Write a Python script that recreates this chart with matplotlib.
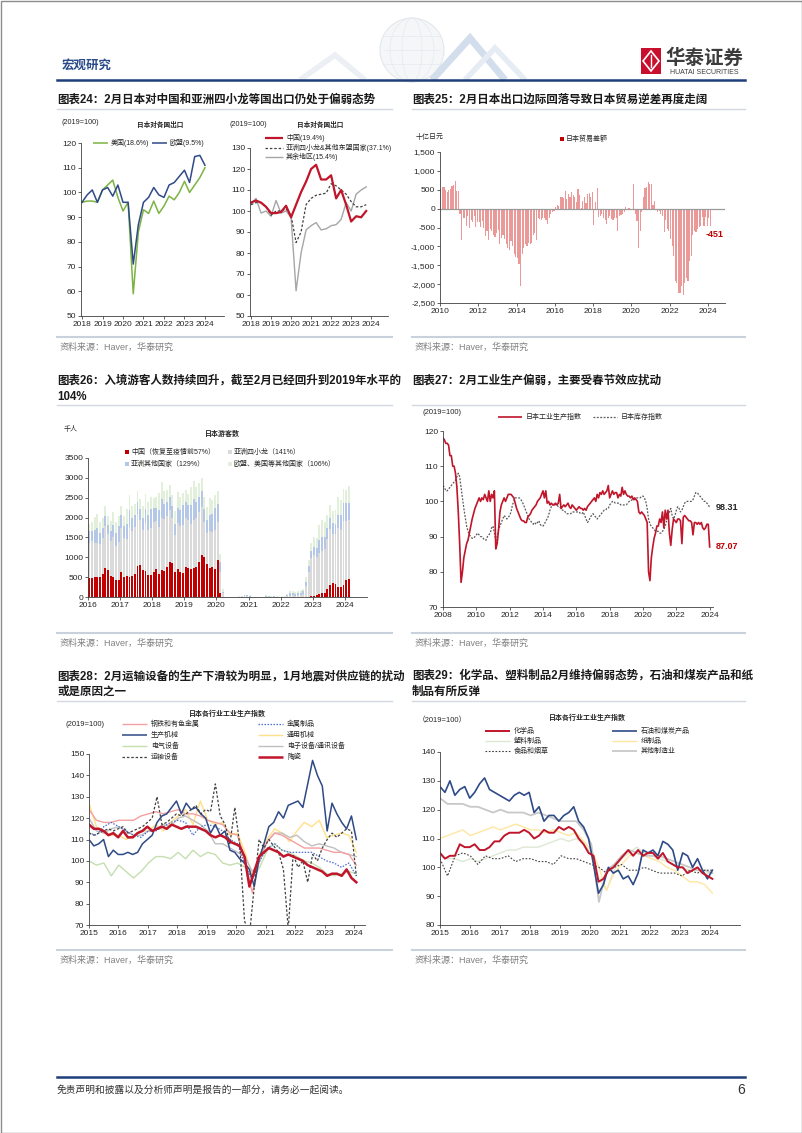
import matplotlib
matplotlib.use("Agg")
import matplotlib.pyplot as plt
import numpy as np
from matplotlib.patches import Rectangle, Circle, Ellipse, Polygon
from matplotlib.ticker import FuncFormatter

plt.rcParams['font.family'] = ['Liberation Sans', 'Noto Sans CJK SC', 'DejaVu Sans']
plt.rcParams['axes.unicode_minus'] = False

# ---------------- data ----------------
# chart 24 (quarterly, 2018Q1 onwards)
us_exp = [96, 96.5, 96.5, 96, 101, 103, 105, 98, 92.5, 96, 59, 84, 93, 91.5, 96.5, 91.5,
          94.5, 98.5, 97, 100, 104.5, 100, 103, 106, 110]
eu_exp = [96, 99, 101, 96, 101, 102, 98.5, 103, 96, 96, 71, 87, 96, 98, 102, 99,
          98, 103, 104, 106.5, 109, 104, 114.5, 115, 111]
cn_exp = [104, 105, 104, 102, 99, 99, 99.5, 102.5, 97, 103, 109, 114, 120, 122, 115, 115,
          117, 106, 110, 103, 95, 97.5, 97, 100]
asia_exp = [103, 104, 104, 102, 98, 100, 100, 101, 98, 85, 90, 103, 106, 107.5, 108, 108.5,
            113, 112, 110, 108, 104.5, 102, 102, 103]
rest_exp = [103.5, 106, 99, 100, 97.5, 105, 99, 100, 97, 62, 80, 91, 93, 94.5, 91, 91.5,
            93, 93.5, 96, 104, 100, 108, 110, 111.5]

# chart 25 trade balance, monthly 2010-01 .. 2024-02 (bn yen)
trade_bal = [
    530, 580, 570, 500, 430, 500, 520, 610, 620, 740, 460, 470,
    -150, -820, -250, -250, -450, -200, -500, -300, -350, -200, -480, -350,
    -350, -480, -320, -500, -720, -600, -820, -550, -600, -700, -750, -640,
    -560, -950, -780, -700, -800, -950, -1050, -1100, -850, -1000, -1200, -1280,
    -1300, -1480, -2050, -1200, -1050, -950, -1000, -920, -950, -900, -700, -650,
    -820, -260, -280, -300, -250, -240, -300, -400, -260, -150, -100, -50,
    50, 100, 80, 300, 310, 280, 470, 250, 400, 300, 450, 350,
    300, 180, 520, 350, 20, 200, 320, 150, 400, 420, 300, 450,
    -430, 180, 540, -220, -200, -150, -250, -310, -400, -250, -200, -270,
    -300, -250, -250, -580, -200, -180, -150, -100, 45, -30, 20, -20,
    -20, 650, -140, -330, -1050, -600, -100, 310, 540, 580, 700, 640,
    640, 90, 200, -30, -90, -50, -150, -200, -620, -300, -540, -600,
    -800, -1000, -1250, -1920, -1960, -2230, -2230, -2050, -2280, -1960, -1830, -1920,
    -1380, -1250, -710, -580, -620, -540, -490, -450, -220, -450, -220, -450,
    -250, -451]

# chart 26 visitors, monthly 2016-01 .. 2024-02 (thousand)
china_vis = [
    470, 490, 500, 510, 510, 580, 730, 680, 520, 510, 430, 420,
    620, 500, 520, 510, 520, 580, 770, 810, 680, 660, 560, 560,
    620, 700, 590, 680, 650, 760, 870, 850, 640, 710, 620, 600,
    750, 720, 700, 730, 750, 880, 1050, 1000, 820, 730, 750, 710,
    920, 90, 10, 0, 0, 0, 0, 0, 0, 0, 0, 0,
    0, 0, 0, 0, 0, 0, 0, 0, 0, 0, 0, 0,
    1, 1, 3, 5, 5, 3, 3, 4, 5, 5, 10, 20,
    30, 40, 70, 110, 100, 210, 310, 360, 330, 250, 250, 310,
    420, 460]
dragons_vis = [
    900, 930, 850, 860, 830, 910, 1050, 910, 890, 1000, 860, 970,
    1130, 990, 930, 1250, 1140, 1180, 1310, 1140, 1010, 1200, 1130, 1190,
    1260, 1210, 1180, 1300, 1320, 1280, 1310, 1150, 910, 1150, 1160, 1210,
    1250, 1220, 1140, 1210, 1240, 1270, 1220, 880, 780, 930, 880, 980,
    970, 550, 80, 1, 1, 1, 2, 4, 7, 14, 30, 30,
    11, 2, 3, 3, 2, 2, 9, 6, 4, 6, 5, 3,
    5, 5, 18, 25, 35, 32, 42, 56, 75, 275, 615, 950,
    1040, 970, 1040, 1060, 1120, 1250, 1400, 1230, 1250, 1480, 1440, 1610,
    1500, 1490]
asia_vis = [
    280, 250, 330, 380, 280, 250, 270, 230, 250, 300, 320, 400,
    320, 300, 380, 440, 320, 300, 320, 270, 290, 360, 380, 470,
    360, 330, 420, 500, 360, 340, 350, 300, 300, 380, 410, 500,
    400, 370, 470, 540, 400, 380, 390, 340, 340, 410, 450, 540,
    450, 250, 40, 1, 1, 1, 1, 2, 3, 6, 12, 14,
    15, 2, 4, 4, 4, 4, 12, 8, 6, 8, 7, 4,
    5, 5, 25, 60, 50, 40, 50, 50, 60, 100, 150, 200,
    200, 230, 330, 350, 300, 280, 290, 270, 270, 340, 380, 450,
    450, 420]
west_vis = [
    200, 220, 330, 330, 280, 250, 250, 230, 260, 330, 270, 260,
    230, 250, 380, 380, 320, 290, 280, 260, 300, 380, 310, 300,
    260, 270, 420, 420, 350, 320, 300, 280, 310, 400, 330, 320,
    290, 290, 450, 450, 380, 350, 330, 300, 330, 430, 360, 340,
    320, 200, 60, 1, 0, 1, 1, 3, 4, 8, 14, 15,
    20, 3, 5, 4, 4, 4, 30, 12, 8, 8, 8, 5,
    6, 6, 20, 50, 60, 45, 50, 60, 70, 120, 160, 200,
    230, 240, 380, 430, 380, 330, 320, 300, 330, 450, 370, 360,
    320, 420]

# chart 27, monthly 2008-01 .. 2024-01
ip_index = [
    118, 117.5, 116.5, 116.5, 116, 113, 113, 110, 110, 108, 104, 97,
    88, 77, 80, 84, 86, 88, 89, 91, 93, 95, 96.5, 98,
    99, 100, 101, 100, 101, 100.5, 102, 101, 100, 103, 100, 102,
    101, 103, 86.5, 88, 92, 97, 99, 100, 101, 100, 101, 102,
    102, 102, 101.5, 101, 99.5, 98, 97, 96, 95, 94.5, 94.5, 94,
    94, 95.5, 96, 96.5, 97.5, 98, 98.5, 99, 100, 100.5, 101, 102,
    103, 101, 103, 99.5, 100, 99, 99.5, 99, 99, 99.5, 99, 99.5,
    102, 98, 98.5, 99, 98.5, 99, 99.5, 98.5, 98, 99, 98.5, 98,
    97.5, 98, 98.5, 98, 98, 97.5, 98, 97.5, 98.5, 99, 99.5, 100,
    100.5, 101, 100, 102, 101, 102.5, 102, 103, 102, 102.5, 103, 104.5,
    101, 102, 103, 102, 102.5, 102.5, 101, 102, 101.5, 104, 102, 103,
    102, 101.5, 101.5, 101, 101.5, 100.5, 101, 100.5, 100, 97, 96.5, 97,
    96.5, 96, 95, 94, 80, 77.5, 84, 87, 89.5, 91, 93, 93,
    95, 94, 97, 92.5, 97.5, 95, 97.5, 91, 87.5, 92, 95, 94.5,
    94, 95, 95, 94.5, 88, 95.5, 96, 95.5, 95, 94.5, 94.5, 94,
    90.5, 94, 94, 93.5, 94, 93.5, 94, 92.5, 92, 92.5, 93.5, 93.5,
    87.07]
inv_index = [
    104.5, 104, 103, 103, 103.5, 104, 104.5, 105, 105.5, 106, 107, 108,
    107, 104, 101, 98, 95.5, 93, 91.5, 90.5, 90, 89.5, 89.5, 90,
    90.5, 91, 90.5, 90, 90, 89.5, 89, 89, 90, 90.5, 91, 92.5,
    93, 91, 89, 90, 92, 93, 94, 95, 96, 95.5, 95, 95.5,
    96, 97, 99, 100, 101, 101, 101, 101, 100.5, 100, 99, 98,
    97, 96, 95, 94.5, 94, 93.5, 94, 93.5, 94, 94.5, 93.5, 93,
    93, 93.5, 94.5, 95, 96, 97.5, 98.5, 99, 99.5, 99, 99, 98.5,
    98.5, 98, 97.5, 97.5, 97, 96.5, 96.5, 96.5, 96.5, 97, 97, 97,
    97, 97, 97, 96.5, 96.5, 97, 96, 95, 94, 94.5, 95.5, 96,
    96.5, 96, 95.5, 95, 95.5, 96, 96.5, 97, 97.5, 97.5, 98, 98,
    99, 99.5, 100, 100, 99.5, 99.5, 99.5, 99.5, 99, 99, 99, 99,
    99, 99.5, 100, 100, 100.5, 100.5, 100.5, 101, 101, 101, 101, 101.5,
    101.5, 101, 100, 98, 95, 93.5, 93, 92.5, 92, 91.5, 91.5, 91.5,
    91, 91, 91.5, 92, 93, 94.5, 96, 97, 98, 96, 95, 96,
    97.5, 98.5, 98, 97, 97.5, 98.5, 99.5, 100, 100, 100, 100, 100,
    100.5, 101.5, 102.5, 102.5, 102, 101.5, 101, 100.5, 100, 100, 99.5, 99,
    98.31]

# chart 28 (2015 .. early 2024)
steel = [124, 119, 118, 118, 119, 119, 119, 121, 122, 123, 122, 123, 124, 122, 122, 121, 119, 118, 117,
         113, 112, 100, 85, 102, 109, 113, 112, 110, 108, 106, 106, 106, 105, 104, 104, 103, 98]
metal = [113, 112, 116, 118, 116, 114, 112, 111, 114, 114, 116, 118, 119, 118, 112, 116, 117, 116, 114,
         110, 108, 98, 91, 100, 106, 108, 105, 104, 104, 104, 104, 102, 100, 99, 97, 99, 93]
gen_mach = [127, 116, 114, 112, 112, 110, 112, 114, 114, 117, 114, 118, 121, 124, 117, 128, 119, 117, 118,
            112, 113, 104, 93, 103, 110, 115, 113, 109, 114, 118, 116, 119, 111, 112, 113, 112, 104]
elec = [100, 98, 99, 93, 98, 95, 92, 95, 99, 102, 102, 101, 104, 101, 105, 102, 104, 103, 99,
        98, 99, 97, 92, 97, 105, 108, 105, 104, 102, 100, 99, 97, 94, 93, 94, 95, 94]
electronic = [120, 114, 113, 115, 116, 114, 112, 112, 114, 115, 117, 116, 120, 121, 119, 117, 114, 108, 108,
              106, 104, 102, 95, 100, 109, 113, 113, 111, 112, 109, 107, 108, 107, 106, 104, 103, 102]
prod_mach = [110, 107, 108, 110, 102, 105, 103, 103, 104, 103, 104, 108, 110, 112, 118, 121, 122, 125, 128,
             122, 127, 124, 125, 122, 120, 113, 117, 112, 114, 105, 104, 101, 99, 96, 88, 101, 108, 116,
             118, 123, 120, 126, 127, 128, 125, 136, 147, 140, 135, 114, 127, 122, 118, 115, 121, 110]
transport = [113, 112, 113, 114, 115, 114, 115, 116, 113, 114, 115, 116, 118, 120, 130, 117, 118, 120, 122,
             121, 122, 124, 126, 122, 124, 123, 136, 121, 117, 108, 125, 108, 72, 65, 88, 110, 106, 110,
             107, 104, 96, 68, 103, 97, 100, 90, 103, 100, 106, 110, 113, 111, 113, 115, 114, 93]
ceramics = [117, 115, 115, 114, 112, 113, 111, 114, 111, 111, 113, 114, 116, 114, 115, 116, 115, 117, 116,
            115, 116, 116, 116, 115, 114, 112, 111, 112, 111, 109, 108, 107, 102, 88, 95, 102, 104, 106,
            105, 104, 102, 103, 102, 101, 100, 98, 97, 96, 95, 93, 94, 94, 93, 96, 92, 90]

# chart 29 (2015 .. early 2024)
chem = [105, 103, 104, 104, 108, 107, 107, 108, 106, 106, 107, 109, 109, 111, 112, 112, 112, 113, 112,
        110, 111, 113, 112, 112, 114, 113, 114, 113, 110, 108, 105, 104, 95, 96, 99, 100, 102, 104,
        106, 104, 106, 104, 105, 105, 103, 105, 102, 101, 100, 100, 98, 99, 100, 98, 97, 96]
petro = [128, 126, 130, 125, 127, 128, 124, 126, 129, 131, 127, 126, 125, 124, 123, 125, 126, 125, 126,
         119, 121, 116, 118, 118, 116, 118, 119, 121, 116, 114, 110, 101, 91, 94, 100, 98, 99, 96,
         97, 94, 98, 106, 105, 106, 104, 109, 108, 106, 99, 105, 104, 100, 103, 99, 96, 99]
plastic = [104, 103, 103, 102, 103, 102, 103, 104, 105, 106, 106, 107, 107, 107, 108, 109, 110, 109, 110,
           108, 105, 96, 92, 99, 103, 105, 107, 105, 104, 103, 102, 101, 100, 99, 99, 98, 98]
paper = [110, 111, 112, 113, 111, 112, 113, 114, 113, 114, 115, 114, 113, 113, 112, 113, 112, 111, 112,
         109, 106, 100, 92, 98, 101, 104, 105, 104, 103, 102, 100, 99, 97, 95, 95, 94, 91]
food = [103, 97, 104, 105, 104, 101, 104, 103, 103, 104, 102, 103, 103, 102, 102, 101, 104, 103, 103,
        102, 101, 100, 98, 100, 101, 99, 99, 100, 99, 98, 98, 98, 97, 99, 98, 99, 99]
other_mfg = [124, 122, 122, 122, 121, 121, 120, 119, 120, 119, 119, 119, 118, 119, 118, 117, 116, 116, 116,
             113, 108, 88, 99, 101, 104, 106, 105, 104, 104, 104, 103, 102, 101, 100, 99, 99, 98]

# ---------------- page ----------------
W, H = 802, 1133
fig = plt.figure(figsize=(W / 100, H / 100), dpi=100)
fig.patch.set_facecolor('white')
bg = fig.add_axes([0, 0, 1, 1])
bg.set_xlim(0, W)
bg.set_ylim(H, 0)
bg.axis('off')

DARK_BLUE = '#1f3f7a'
TXT = '#262626'


def add_ax(l, t, r, b):
    ax = fig.add_axes([l / W, 1 - b / H, (r - l) / W, (b - t) / H])
    ax.patch.set_alpha(0)
    for s in ('top', 'right'):
        ax.spines[s].set_visible(False)
    for s in ('left', 'bottom'):
        ax.spines[s].set_color('#404040')
        ax.spines[s].set_linewidth(0.6)
    ax.tick_params(labelsize=6, colors=TXT, length=2, width=0.5, pad=1.5)
    return ax


def leg_line(x0, x1, y, color, text, lw=1.0, ls='-', fs=5, gap=4):
    bg.plot([x0, x1], [y, y], color=color, lw=lw, ls=ls, solid_capstyle='butt')
    bg.text(x1 + gap, y, text, fontsize=fs, va='center', ha='left', color=TXT)


def leg_box(x, y, color, text, fs=5):
    bg.add_patch(Rectangle((x - 2, y - 2), 4, 4, color=color, lw=0))
    bg.text(x + 4, y, text, fontsize=fs, va='center', ha='left', color=TXT)


# page frame and faint header artwork
bg.add_patch(Rectangle((0.5, 0.5), W - 1, H - 1, fill=False, ec='#8c8c8c', lw=1))
bg.add_patch(Circle((412, 50), 32, fc='#f5f6f8', ec='#e1e5ea', lw=0.7))
for wdt in (20, 44):
    bg.add_patch(Ellipse((412, 50), wdt, 64, fill=False, ec='#e6e9ee', lw=0.5))
for hh in (36, 50, 64):
    bg.plot([384, 440], [hh, hh], color='#e6e9ee', lw=0.5)
bg.add_patch(Polygon([(300, 80), (335, 55), (365, 80)], closed=False, fill=False, ec='#eceff4', lw=4))
bg.add_patch(Polygon([(432, 80), (470, 38), (505, 80)], closed=False, fill=False, ec='#d3deed', lw=5))
bg.add_patch(Polygon([(465, 80), (495, 48), (525, 80)], closed=False, fill=False, ec='#e6ecf4', lw=4))

bg.text(62, 66, '宏观研究', fontsize=9, fontweight='bold', color='#2a4a8a', va='center')
bg.plot([57, 745], [80, 80], color=DARK_BLUE, lw=1.8)

# logo
bg.add_patch(Rectangle((641, 48), 20, 26, color='#c8102e', lw=0))
bg.add_patch(Polygon([(651, 51), (659, 61), (651, 71), (643, 61)], closed=True, fill=False, ec='white', lw=1.2))
bg.plot([651, 651], [55, 67], color='white', lw=1.0)
bg.text(704, 58, '华泰证券', fontsize=14, fontweight='bold', color='#3c3c3c', ha='center', va='center')
bg.text(704, 72, 'HUATAI SECURITIES', fontsize=5, color='#3c3c3c', ha='center', va='center')

# titles, rules and sources
titles = [
    (57, [100], ['图表24：2月日本对中国和亚洲四小龙等国出口仍处于偏弱态势']),
    (412, [100], ['图表25：2月日本出口边际回落导致日本贸易逆差再度走阔']),
    (57, [381, 397], ['图表26：入境游客人数持续回升，截至2月已经回升到2019年水平的', '104%']),
    (412, [381], ['图表27：2月工业生产偏弱，主要受春节效应扰动']),
    (57, [676, 692], ['图表28：2月运输设备的生产下滑较为明显，1月地震对供应链的扰动', '或是原因之一']),
    (412, [676, 692], ['图表29：化学品、塑料制品2月维持偏弱态势，石油和煤炭产品和纸', '制品有所反弹']),
]
for x, ys, lines in titles:
    for y, s in zip(ys, lines):
        bg.text(x, y, s, fontsize=8.3, fontweight='bold', color='#1a1a1a', va='center')

for y in (109, 405, 701):
    bg.plot([57, 392], [y, y], color='#d3d9e1', lw=1)
    bg.plot([412, 745], [y, y], color='#d3d9e1', lw=1)
for y in (337, 633, 950):
    bg.plot([57, 392], [y, y], color='#c9d2dc', lw=1.5)
    bg.plot([412, 745], [y, y], color='#c9d2dc', lw=1.5)
    bg.text(60, y + 10, '资料来源：Haver，华泰研究', fontsize=6.5, color='#808080', va='center')
    bg.text(415, y + 10, '资料来源：Haver，华泰研究', fontsize=6.5, color='#808080', va='center')

bg.plot([57, 745], [1077, 1077], color=DARK_BLUE, lw=1.8)
bg.text(57, 1090, '免责声明和披露以及分析师声明是报告的一部分，请务必一起阅读。', fontsize=7, color='#333333',
        va='center', style='italic')
bg.text(745, 1090, '6', fontsize=10, color='#333333', va='center', ha='right')

# ---------------- chart 24 left ----------------
ax = add_ax(81, 143, 224, 316)
ax.plot(2018 + np.arange(len(us_exp)) * 0.25, us_exp, color='#7cb342', lw=1.1)
ax.plot(2018 + np.arange(len(eu_exp)) * 0.25, eu_exp, color='#2e4a87', lw=1.1)
ax.set_xlim(2017.95, 2024.93)
ax.set_ylim(50, 120)
ax.set_yticks(range(50, 121, 10))
ax.set_xticks(range(2018, 2025))
bg.text(80, 123, '(2019=100)', fontsize=5.2, color=TXT, ha='center', va='center')
bg.text(160, 125, '日本对各国出口', fontsize=4.8, fontweight='bold', color=TXT, ha='center', va='center')
leg_line(93, 108, 143, '#7cb342', '美国(18.6%)', lw=1.1, gap=3)
leg_line(152, 167, 143, '#2e4a87', '欧盟(9.5%)', lw=1.1, gap=3)

# ---------------- chart 24 right ----------------
ax = add_ax(250, 148, 388, 316)
xq2 = 2018 + np.arange(len(cn_exp)) * 0.25
ax.plot(xq2, rest_exp, color='#a6a6a6', lw=1.0)
ax.plot(xq2, asia_exp, color='#404040', lw=0.9, ls=(0, (2, 1.5)))
ax.plot(xq2, cn_exp, color='#c0152a', lw=1.6)
ax.set_xlim(2017.95, 2024.84)
ax.set_ylim(50, 130)
ax.set_yticks(range(50, 131, 10))
ax.set_xticks(range(2018, 2025))
bg.text(248, 125, '(2019=100)', fontsize=5.2, color=TXT, ha='center', va='center')
bg.text(320, 126, '日本对各国出口', fontsize=4.8, fontweight='bold', color=TXT, ha='center', va='center')
leg_line(265, 283, 138, '#c0152a', '中国(19.4%)', lw=1.6, gap=3)
leg_line(265, 283, 148, '#404040', '亚洲四小龙&其他东盟国家(37.1%)', lw=0.9, ls=(0, (2, 1.5)), gap=3)
leg_line(265, 283, 157, '#a6a6a6', '其余地区(15.4%)', lw=1.0, gap=3)

# ---------------- chart 25 ----------------
ax = add_ax(440, 152, 725, 303)
x25 = 2010 + (np.arange(len(trade_bal)) + 0.5) / 12
ax.bar(x25, trade_bal, width=0.06, color='#eb9898', lw=0)
ax.axhline(0, color='#9a9a9a', lw=0.9)
ax.set_xlim(2010, 2024.89)
ax.set_ylim(-2500, 1500)
ax.set_yticks(range(-2500, 1501, 500))
ax.yaxis.set_major_formatter(FuncFormatter(lambda v, p: f'{int(v):,}'))
ax.set_xticks(range(2010, 2025, 2))
ax.text(2024.35, -680, f'{trade_bal[-1]:.0f}', fontsize=6.5, fontweight='bold', color='#c00000',
        ha='center', va='center', clip_on=False)
bg.text(430, 137, '十亿日元', fontsize=5, color=TXT, ha='center', va='center')
leg_box(562, 139, '#c00000', '日本贸易差额')

# ---------------- chart 26 ----------------
ax = add_ax(88, 458, 367, 597)
x26 = 2016 + (np.arange(len(china_vis)) + 0.5) / 12
c = np.array(china_vis, dtype=float)
d = np.array(dragons_vis, dtype=float)
a = np.array(asia_vis, dtype=float)
w = np.array(west_vis, dtype=float)
bw = 0.06
ax.bar(x26, c, width=bw, color='#c00000', lw=0)
ax.bar(x26, d, width=bw, bottom=c, color='#dadada', lw=0)
ax.bar(x26, a, width=bw, bottom=c + d, color='#b4c7e7', lw=0)
ax.bar(x26, w, width=bw, bottom=c + d + a, color='#e2efda', lw=0)
ax.set_xlim(2016, 2024.69)
ax.set_ylim(0, 3500)
ax.set_yticks(range(0, 3501, 500))
ax.set_xticks(range(2016, 2025))
bg.text(71, 429, '千人', fontsize=5, color=TXT, ha='center', va='center')
bg.text(222, 434, '日本游客数', fontsize=5, fontweight='bold', color=TXT, ha='center', va='center')
leg_box(127, 452, '#c00000', '中国（恢复至疫情前57%）')
leg_box(230, 452, '#dadada', '亚洲四小龙（141%）')
leg_box(127, 464, '#b4c7e7', '亚洲其他国家（129%）')
leg_box(230, 464, '#e2efda', '欧盟、美国等其他国家（106%）')

# ---------------- chart 27 ----------------
ax = add_ax(443, 431, 713, 607)
x27 = 2008 + np.arange(len(ip_index)) / 12
ax.plot(x27, inv_index, color='#595959', lw=0.9, ls=(0, (1.5, 1.2)))
ax.plot(x27, ip_index, color='#c0152a', lw=1.2)
ax.set_xlim(2008, 2024.2)
ax.set_ylim(70, 120)
ax.set_yticks(range(70, 121, 10))
ax.set_xticks(range(2008, 2025, 2))
ax.text(2024.35, inv_index[-1], f'{inv_index[-1]:.2f}', fontsize=6.5, fontweight='bold', color='#262626',
        ha='left', va='center', clip_on=False)
ax.text(2024.35, ip_index[-1], f'{ip_index[-1]:.2f}', fontsize=6.5, fontweight='bold', color='#c00000',
        ha='left', va='center', clip_on=False)
bg.text(442, 412, '(2019=100)', fontsize=5.5, color=TXT, ha='center', va='center')
leg_line(498, 522, 417, '#c0152a', '日本工业生产指数', lw=1.2)
leg_line(593, 617, 417, '#595959', '日本库存指数', lw=0.9, ls=(0, (1.5, 1.2)))

# ---------------- chart 28 ----------------
ax = add_ax(89, 754, 365, 925)


def xs(v):
    return np.linspace(2015, 2024.08, len(v))


ax.plot(xs(elec), elec, color='#c5dfb0', lw=1.0)
ax.plot(xs(gen_mach), gen_mach, color='#ffe08a', lw=1.0)
ax.plot(xs(electronic), electronic, color='#bfbfbf', lw=1.0)
ax.plot(xs(steel), steel, color='#f4a0a0', lw=1.0)
ax.plot(xs(metal), metal, color='#4a6fd0', lw=0.9, ls=(0, (1.2, 1.2)))
ax.plot(xs(prod_mach), prod_mach, color='#2e4a87', lw=1.1)
ax.plot(xs(transport), transport, color='#404040', lw=0.9, ls=(0, (2, 1.5)))
ax.plot(xs(ceramics), ceramics, color='#c0152a', lw=1.8)
ax.set_xlim(2015, 2024.375)
ax.set_ylim(70, 150)
ax.set_yticks(range(70, 151, 10))
ax.set_xticks(range(2015, 2025))
bg.text(227, 714, '日本各行业工业生产指数', fontsize=5, fontweight='bold', color=TXT, ha='center', va='center')
bg.text(85, 725, '(2019=100)', fontsize=5.5, color=TXT, ha='center', va='center')
leg_line(122, 147, 724, '#f4a0a0', '钢铁和有色金属', lw=1.0)
leg_line(122, 147, 735, '#2e4a87', '生产机械', lw=1.1)
leg_line(122, 147, 746, '#c5dfb0', '电气设备', lw=1.0)
leg_line(122, 147, 757, '#404040', '运输设备', lw=0.9, ls=(0, (2, 1.5)))
leg_line(258, 283, 724, '#4a6fd0', '金属制品', lw=0.9, ls=(0, (1.2, 1.2)))
leg_line(258, 283, 735, '#ffe08a', '通用机械', lw=1.0)
leg_line(258, 283, 746, '#bfbfbf', '电子设备/通讯设备', lw=1.0)
leg_line(258, 283, 757, '#c0152a', '陶瓷', lw=1.8)

# ---------------- chart 29 ----------------
ax = add_ax(440, 752, 740, 925)
ax.plot(xs(plastic), plastic, color='#dde8d4', lw=1.0)
ax.plot(xs(paper), paper, color='#ffe6a0', lw=1.0)
ax.plot(xs(other_mfg), other_mfg, color='#c8c8c8', lw=1.3)
ax.plot(xs(food), food, color='#404040', lw=0.8, ls=(0, (1.5, 1.5)))
ax.plot(xs(petro), petro, color='#2e4a87', lw=1.2)
ax.plot(xs(chem), chem, color='#c0152a', lw=1.4)
ax.set_xlim(2015, 2025)
ax.set_ylim(80, 140)
ax.set_yticks(range(80, 141, 10))
ax.set_xticks(range(2015, 2025))
bg.text(587, 718, '日本各行业工业生产指数', fontsize=5, fontweight='bold', color=TXT, ha='center', va='center')
bg.text(442, 721, '（2019=100）', fontsize=5.5, color=TXT, ha='center', va='center')
leg_line(485, 510, 731, '#c0152a', '化学品', lw=1.4)
leg_line(485, 510, 741, '#dde8d4', '塑料制品', lw=1.0)
leg_line(485, 510, 751, '#404040', '食品和烟草', lw=0.8, ls=(0, (1.5, 1.5)))
leg_line(612, 637, 731, '#2e4a87', '石油和煤炭产品', lw=1.2)
leg_line(612, 637, 741, '#ffe6a0', '纸制品', lw=1.0)
leg_line(612, 637, 751, '#c8c8c8', '其他制造业', lw=1.3)

fig.savefig('out.png', dpi=100, facecolor='white')
